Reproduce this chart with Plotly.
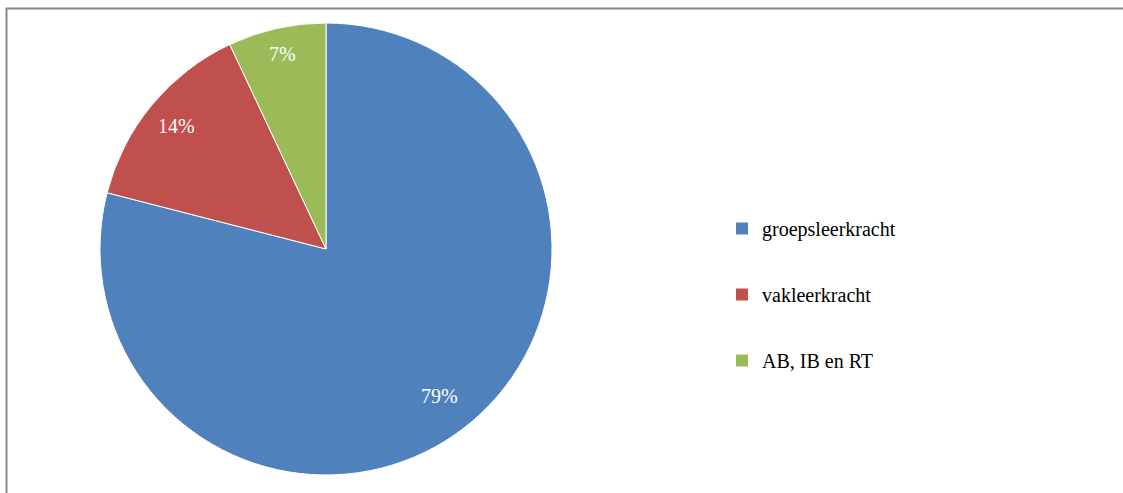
import numpy as np
import plotly.graph_objects as go

# Verdeling per functie
labels = ['groepsleerkracht', 'vakleerkracht', 'AB, IB en RT']
values = [79, 14, 7]
colors = ['#4F81BD', '#C0504D', '#9BBB59']

W, H = 1123, 493
cx, cy, r = 326, 249, 226  # pie centre / radius in pixels
label_radius = [0.82, 0.86, 0.89]  # where the % labels sit, as fraction of radius
serif = '"Times New Roman", "Liberation Serif", serif'

fig = go.Figure()

fig.add_trace(go.Pie(
    labels=labels,
    values=values,
    sort=False,
    direction='clockwise',
    rotation=0,
    marker=dict(colors=colors, line=dict(color='white', width=1)),
    textinfo='none',
    hoverinfo='label+percent',
    showlegend=False,
    domain=dict(x=[(cx - r) / W, (cx + r) / W], y=[1 - (cy + r) / H, 1 - (cy - r) / H]),
))

# percentage labels near the outer edge of each slice, like the original
total = sum(values)
cum = np.cumsum([0] + values)
for i, v in enumerate(values):
    mid = (cum[i] + v / 2) / total * 2 * np.pi
    px_ = cx + label_radius[i] * r * np.sin(mid)
    py_ = cy - label_radius[i] * r * np.cos(mid) + 1
    fig.add_annotation(
        x=px_ / W, y=1 - py_ / H, xref='paper', yref='paper',
        xanchor='center', yanchor='middle',
        text=f'{round(v / total * 100)}%', showarrow=False,
        font=dict(family=serif, size=20, color='white'),
    )

# legend entries (one group each so the rows can be spaced out)
for lab, col in zip(labels, colors):
    fig.add_trace(go.Scatter(
        x=[None], y=[None], mode='markers', name=lab, legendgroup=lab,
        marker=dict(symbol='square', size=11, color=col),
    ))

fig.add_shape(type='rect', xref='paper', yref='paper',
              x0=6.5 / W, x1=1.05, y0=-0.05, y1=1 - 8.5 / H,
              line=dict(color='#8a8a8a', width=2))

fig.update_layout(
    width=W, height=H,
    margin=dict(l=0, r=0, t=0, b=0),
    paper_bgcolor='white', plot_bgcolor='white',
    xaxis=dict(visible=False), yaxis=dict(visible=False),
    font=dict(family=serif, size=20, color='black'),
    legend=dict(x=722 / W, y=1 - 209 / H, xanchor='left', yanchor='top',
                tracegroupgap=37, traceorder='grouped',
                font=dict(family=serif, size=20, color='black'),
                bgcolor='rgba(0,0,0,0)', itemsizing='constant'),
)

# page has a default 8px body margin; remove it so the figure fills the window
fig.write_html('out.html', config={'displayModeBar': False},
               post_script="document.body.style.margin='0';")
